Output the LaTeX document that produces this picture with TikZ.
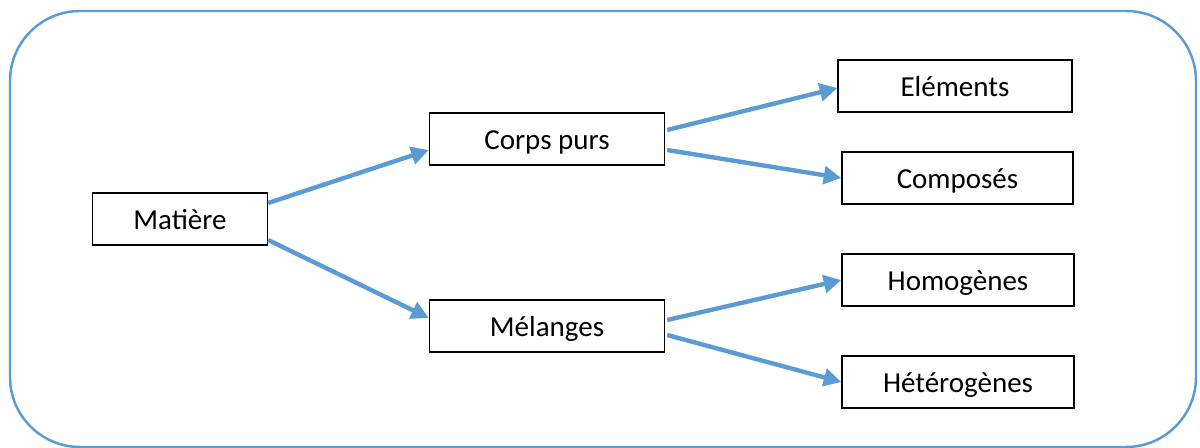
\documentclass[tikz,border=0pt]{standalone}
\usepackage{fontspec}
\setmainfont{Carlito}
\usepackage{tikz}
\usetikzlibrary{calc, arrows.meta}
\definecolor{flowblue}{HTML}{5B9BD5}
\tikzset{every node/.append style={font=\fontsize{16.5}{19}\selectfont}}
\tikzset{
  box/.style={draw=black, line width=0.8pt, minimum height=1.04cm, inner sep=0pt,
    text height=15.5pt, text depth=3.5pt},
  flow/.style={draw=flowblue, line width=2.5pt, -{Triangle[length=10pt, width=10pt]}}
}
\begin{document}
\begin{tikzpicture}[x=0.02cm, y=-0.02cm]
    \useasboundingbox (0,0) rectangle (1200,448);
    % outer frame
    \draw[flowblue, line width=1.4pt, rounded corners=1.4cm] (10,11) rectangle (1196,447);
    % root and first level
    \node[box, minimum width=3.5cm] (matiere) at (180,219) {Matière};
    \node[box, minimum width=4.7cm] (corps) at (547,139) {Corps purs};
    \node[box, minimum width=4.7cm] (melanges) at (547,326) {Mélanges};
    % second level
    \node[box, minimum width=4.68cm] (elements) at (955,86) {Eléments};
    \node[box, minimum width=4.62cm] (composes) at (957.5,178) {Composés};
    \node[box, minimum width=4.64cm] (homogenes) at (958,280) {Homogènes};
    \node[box, minimum width=4.64cm] (heterogenes) at (958,382) {Hétérogènes};
    % connectors
    \draw[flow] ($(matiere.east)+(0,-16)$) -- ($(corps.west)+(0,11)$);
    \draw[flow] ($(matiere.east)+(0,21)$) -- ($(melanges.west)+(0,-8)$);
    \draw[flow] ($(corps.east)+(2,-9)$) -- ($(elements.west)+(0,2)$);
    \draw[flow] ($(corps.east)+(2,11)$) -- (composes.west);
    \draw[flow] ($(melanges.east)+(2,-6)$) -- (homogenes.west);
    \draw[flow] ($(melanges.east)+(2,9)$) -- (heterogenes.west);
\end{tikzpicture}
\end{document}
